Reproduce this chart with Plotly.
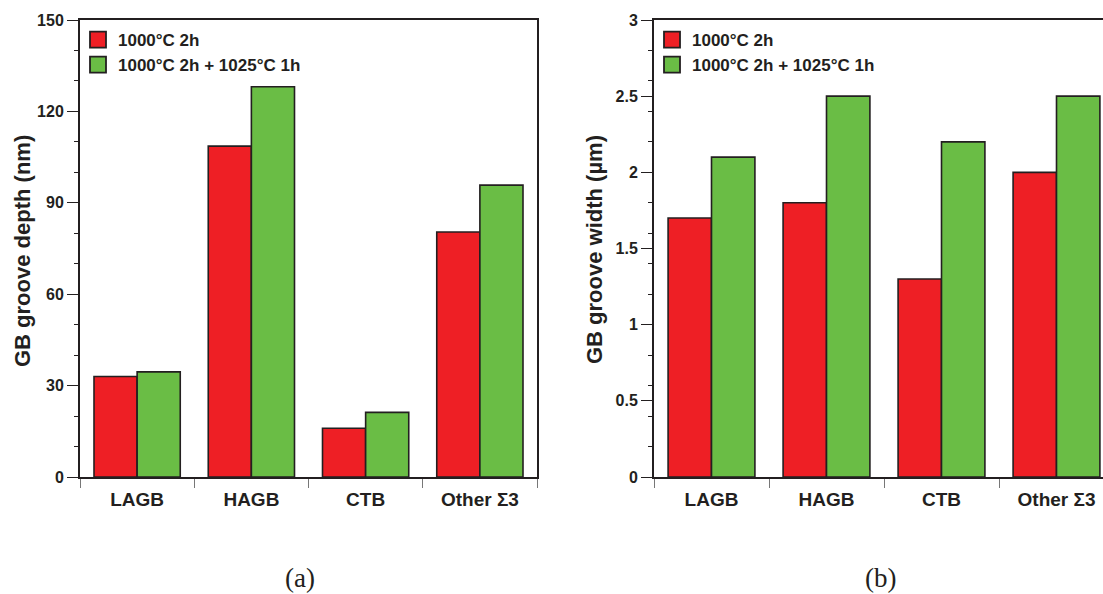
import plotly.graph_objects as go

categories = ["LAGB", "HAGB", "CTB", "Other Σ3"]
series_names = ["1000°C 2h", "1000°C 2h + 1025°C 1h"]
depth_1000 = [33.0, 108.6, 16.0, 80.4]
depth_1025 = [34.5, 128.1, 21.2, 95.8]
width_1000 = [1.7, 1.8, 1.3, 2.0]
width_1025 = [2.1, 2.5, 2.2, 2.5]
depth_ticks = [0, 30, 60, 90, 120, 150]
width_ticks = [0, 0.5, 1, 1.5, 2, 2.5, 3]
width_tick_text = ["0", "0.5", "1", "1.5", "2", "2.5", "3"]

RED = "#EE1F25"
GREEN = "#6ABD45"
INK = "#231F20"
FONT = "Liberation Sans"
COLORS = [RED, GREEN]

fig = go.Figure()

def add_panel(ys, xa, ya, legend):
    for name, y, col in zip(series_names, ys, COLORS):
        fig.add_trace(go.Bar(x=categories, y=y, name=name, xaxis=xa, yaxis=ya,
                             marker=dict(color=col, line=dict(color=INK, width=1.6)),
                             showlegend=False))
    # legend entries (larger square swatches like the original)
    for name, col in zip(series_names, COLORS):
        fig.add_trace(go.Scatter(x=[None], y=[None], name=name, xaxis=xa, yaxis=ya,
                                 mode="markers",
                                 marker=dict(symbol="square", size=16, color=col,
                                             line=dict(color=INK, width=1.8)),
                                 legend=legend, showlegend=True))

add_panel([depth_1000, depth_1025], "x", "y", "legend")
add_panel([width_1000, width_1025], "x2", "y2", "legend2")

W, H = 1103, 594
ytop = 1 - 20 / H
ybot = 1 - 477 / H

tickfont = dict(family=FONT, size=16, color=INK, weight="bold")
catfont = dict(family=FONT, size=19, color=INK, weight="bold")
titlefont = dict(family=FONT, size=22, color=INK, weight="bold")
legfont = dict(family=FONT, size=17, color=INK, weight="bold")

common_x = dict(type="category", showline=True, linecolor=INK, linewidth=2,
                ticks="outside", tickson="boundaries", ticklen=9, tickwidth=1,
                tickcolor="#777777", tickfont=catfont, showgrid=False, zeroline=False,
                automargin=False, fixedrange=True, ticklabelstandoff=4)
common_y = dict(showline=True, linecolor=INK, linewidth=2, ticks="outside",
                ticklen=11, tickwidth=1, tickcolor=INK, tickfont=tickfont,
                showgrid=False, zeroline=False, automargin=False,
                minor=dict(ticks="outside", ticklen=4, tickwidth=1, tickcolor=INK))

fig.update_layout(
    width=W, height=H,
    margin=dict(l=0, r=0, t=0, b=0, autoexpand=False),
    paper_bgcolor="white", plot_bgcolor="white",
    barmode="group", bargap=0.245, bargroupgap=0,
    font=dict(family=FONT, color=INK),
    xaxis=dict(domain=[80 / W, 537 / W], anchor="y", mirror=True, range=[-0.5, 3.5],
               **common_x),
    yaxis=dict(domain=[ybot, ytop], anchor="x", range=[0, 150], tickvals=depth_ticks,
               mirror=True, **common_y),
    xaxis2=dict(domain=[654 / W, 1.0], anchor="y2", mirror=True,
                range=[-0.5, 3.5 - 11 / 115], **common_x),
    yaxis2=dict(domain=[ybot, ytop], anchor="x2", range=[0, 3], tickvals=width_ticks,
                ticktext=width_tick_text, mirror=False, **common_y),
    legend=dict(x=78 / W, y=1 - 22 / H, xanchor="left", yanchor="top",
                bgcolor="rgba(0,0,0,0)", tracegroupgap=0, itemsizing="trace",
                font=legfont, traceorder="normal"),
    legend2=dict(x=652 / W, y=1 - 22 / H, xanchor="left", yanchor="top",
                 bgcolor="rgba(0,0,0,0)", tracegroupgap=0, itemsizing="trace",
                 font=legfont, traceorder="normal"),
    showlegend=True,
)

fig.add_annotation(text="GB groove depth (nm)", x=22 / W, y=1 - 251 / H,
                   xref="paper", yref="paper", showarrow=False, textangle=-90,
                   xanchor="center", yanchor="middle", font=titlefont)
fig.add_annotation(text="GB groove width (µm)", x=595 / W, y=1 - 250 / H,
                   xref="paper", yref="paper", showarrow=False, textangle=-90,
                   xanchor="center", yanchor="middle", font=titlefont)

fig.add_annotation(text="(a)", x=300 / W, y=1 - 578 / H, xref="paper", yref="paper",
                   xanchor="center", yanchor="middle", showarrow=False,
                   font=dict(family="Liberation Serif", size=27, color=INK))
fig.add_annotation(text="(b)", x=880 / W, y=1 - 578 / H, xref="paper", yref="paper",
                   xanchor="center", yanchor="middle", showarrow=False,
                   font=dict(family="Liberation Serif", size=27, color=INK))

fig.write_html("out.html", config={"displayModeBar": False},
               post_script="document.body.style.margin='0';document.body.style.padding='0';")
